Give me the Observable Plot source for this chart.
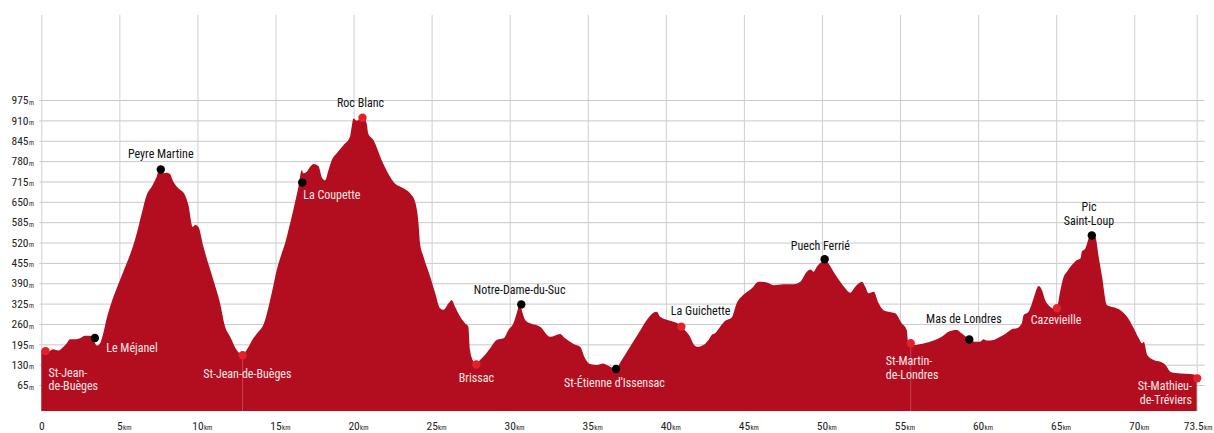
<!DOCTYPE html>
<html>
<head>
<meta charset="utf-8">
<script src="https://cdn.jsdelivr.net/npm/d3@7"></script>
<script src="https://cdn.jsdelivr.net/npm/@observablehq/plot@0.6"></script>
<style>
  html, body { margin: 0; padding: 0; background: #fff; }
  #chart svg { display: block; }
</style>
</head>
<body>
<div id="chart"></div>
<script>
// ---- profile data (distance in km, elevation in m) ----
const distKm = [
  0.00,0.34,0.77,1.09,1.30,1.62,1.84,2.27,2.48,2.80,3.12,3.33,3.55,3.76,3.97,4.19,4.51,4.83,5.25,5.47,
  5.79,6.11,6.43,6.75,7.07,7.39,7.56,7.82,8.03,8.24,8.46,8.78,9.20,9.42,9.70,9.85,10.06,10.38,11.02,11.45,
  11.77,12.09,12.51,12.86,13.15,13.58,13.90,14.22,14.76,15.08,15.40,15.61,15.83,16.14,16.47,16.68,16.79,17.00,17.22,17.44,
  17.75,17.97,18.18,18.39,18.60,18.92,19.35,19.77,19.88,19.99,20.20,20.31,20.52,20.84,20.94,21.27,21.80,22.34,22.55,23.19,
  23.62,23.94,24.16,24.26,24.48,24.91,25.23,25.54,25.76,26.08,26.29,26.50,26.83,27.14,27.35,27.46,27.63,27.82,28.10,28.32,
  28.74,29.17,29.60,29.92,30.24,30.45,30.67,30.77,30.99,31.31,31.95,32.59,33.23,33.55,34.09,34.51,34.83,35.15,35.57,35.99,
  36.21,36.77,37.18,37.71,38.25,38.78,39.10,39.42,39.63,40.27,40.91,41.24,41.55,41.77,41.99,42.41,42.73,42.94,43.15,43.48,
  43.80,44.22,44.54,44.97,45.51,45.94,46.47,46.90,47.54,48.18,48.61,49.03,49.25,49.46,49.67,49.99,50.21,50.42,50.74,51.17,
  51.49,51.81,52.13,52.56,52.77,52.99,53.31,53.63,53.94,54.26,54.69,55.11,55.43,55.53,55.86,56.50,57.24,57.67,58.10,58.63,
  58.95,59.40,59.81,60.13,60.34,60.55,60.98,61.41,61.73,62.16,62.48,62.80,62.91,63.23,63.45,63.66,63.87,64.09,64.30,64.51,
  64.84,65.05,65.27,65.48,65.69,66.01,66.33,66.55,66.65,66.87,67.08,67.29,67.51,67.72,67.94,68.26,68.69,69.11,69.54,69.97,
  70.29,70.50,70.61,70.83,71.25,71.68,72.00,72.33,72.97,73.61,74.00
];
const elevM = [
  177,168,179,175,182,198,211,211,214,222,222,211,191,198,230,278,331,374,427,454,
  496,549,613,672,698,730,752,741,743,739,714,693,672,640,570,576,570,507,400,326,
  252,220,177,162,177,214,235,257,359,432,486,517,560,624,698,751,741,746,762,771,
  764,728,719,751,783,805,831,858,890,916,909,911,927,900,868,847,783,730,714,693,
  677,650,581,517,475,411,358,310,305,326,336,315,283,262,251,177,145,132,145,156,
  182,209,214,241,262,294,326,305,273,262,251,219,228,214,196,187,150,132,129,134,
  129,118,145,187,230,273,292,299,283,270,257,239,219,196,187,193,209,225,230,251,
  270,281,326,353,374,395,392,384,387,387,395,427,434,427,443,459,464,453,427,395,
  374,360,379,395,379,358,363,326,304,299,294,262,241,198,193,198,209,219,235,241,
  230,212,203,203,211,207,209,219,228,243,246,262,288,299,326,358,381,368,336,320,
  310,315,368,411,427,448,464,469,491,501,533,549,539,475,411,320,313,304,283,246,
  214,198,203,161,145,139,129,107,102,100,96
];

// ---- named places ----
const placeNames = [
  "St-Jean-\nde-Buèges","Le Méjanel","Peyre Martine","St-Jean-de-Buèges","La Coupette","Roc Blanc",
  "Brissac","Notre-Dame-du-Suc","St-Étienne d'Issensac","La Guichette","Puech Ferrié",
  "St-Martin-\nde-Londres","Mas de Londres","Cazevieille","Pic\nSaint-Loup","St-Mathieu-\nde-Tréviers"
];
const placeKm   = [0.24,3.40,7.62,12.86,16.68,20.54,27.83,30.71,36.78,40.96,50.14,55.65,59.40,65.02,67.25,74.0];
const placeElev = [175,217,755,162,713,920,132,324,118,253,468,200,212,312,544,88];
const placeKind = ["village","site","summit","village","site","village","village","summit","site","village","summit","village","site","village","summit","village"];

// ---- axis ticks ----
const yTicks = [65,130,195,260,325,390,455,520,585,650,715,780,845,910,975];
const yUnit = "m";
const xTicks = [0,5,10,15,20,25,30,35,40,45,50,55,60,65,70,74];
const xTickLabels = ["0","5","10","15","20","25","30","35","40","45","50","55","60","65","70","73.5"];
const xUnit = "km";

// ---- styling / layout config ----
const W = 1214, H = 433, ML = 41.3, MR = 17.3, MT = 15, MB = 22;
const X_MAX = 74;
const FILL = "#b20e1f";
const RED_DOT = "#e6202b";
const FONT = "'Liberation Sans Narrow','Arial Narrow','Roboto Condensed',Roboto,sans-serif";
const INSIDE = "#fbe6e6";
const TICK_SIZE = 11.5, UNIT_SIZE = 7, LABEL_SIZE = 12;
// label placement relative to the dot (px): [dx, dy, anchor, inside]
const labelLayout = {
  "St-Jean-\nde-Buèges":      [3, 28.3, "start", true],
  "Le Méjanel":               [11.4, 9.4, "start", true],
  "Peyre Martine":            [0, -15.7, "middle", false],
  "St-Jean-de-Buèges":        [4.7, 18.6, "middle", true],
  "La Coupette":              [1, 12, "start", true],
  "Roc Blanc":                [-2, -15.3, "middle", false],
  "Brissac":                  [0, 12.7, "middle", true],
  "Notre-Dame-du-Suc":        [-1.7, -14.7, "middle", false],
  "St-Étienne d'Issensac":    [-1.6, 13.4, "middle", true],
  "La Guichette":             [19.3, -16, "middle", false],
  "Puech Ferrié":             [-4.3, -13.7, "middle", false],
  "St-Martin-\nde-Londres":   [-25, 24.5, "start", true],
  "Mas de Londres":           [-5.4, -21.3, "middle", false],
  "Cazevieille":              [-1, 11.6, "middle", true],
  "Pic\nSaint-Loup":          [-2.8, -21.8, "middle", false],
  "St-Mathieu-\nde-Tréviers": [-5.3, 14.5, "end", true]
};
const dividerPlaces = ["St-Jean-de-Buèges", "St-Martin-\nde-Londres"];

const profile = distKm.map((d, i) => ({km: d, elev: elevM[i]}));
const places = placeNames.map((n, i) => ({name: n, km: placeKm[i], elev: placeElev[i], kind: placeKind[i]}));
const Y_MIN = -17.9, Y_MAX = 1246.5;

// text measurement helper
const ctx = document.createElement("canvas").getContext("2d");
function textWidth(s, size) { ctx.font = `${size}px ${FONT}`; return ctx.measureText(s).width; }

const labelMarks = places.map(p => {
  const [dx, dy, anchor, inside] = labelLayout[p.name];
  return Plot.text([p], {
    x: "km", y: "elev", text: "name",
    dx, dy, textAnchor: anchor, lineAnchor: "middle", lineHeight: 1.13,
    fill: inside ? INSIDE : "#111", fontSize: LABEL_SIZE, fontFamily: FONT
  });
});

// x tick labels: number centred on the tick, small unit after it (kept inside the picture)
const X_LABEL_DY = 18.8;
const xLabelMarks = xTicks.flatMap((t, i) => {
  const lab = xTickLabels[i];
  const numW = textWidth(lab, TICK_SIZE);
  const unitWx = i > 0 ? textWidth(xUnit, UNIT_SIZE) + 0.3 : 0;
  const px = ML + t / X_MAX * (W - ML - MR);
  const shift = Math.min(0, (W - 2) - (px + numW / 2 + unitWx));
  const marks = [Plot.text([t], {x: d => d, frameAnchor: "bottom", text: () => lab, dy: X_LABEL_DY, dx: shift,
    lineAnchor: "bottom", textAnchor: "middle", fontSize: TICK_SIZE, fill: "#222", fontFamily: FONT})];
  if (i > 0) {
    marks.push(Plot.text([t], {x: d => d, frameAnchor: "bottom", text: () => xUnit, dy: X_LABEL_DY,
      dx: numW / 2 + 0.3 + shift,
      lineAnchor: "bottom", textAnchor: "start", fontSize: UNIT_SIZE, fill: "#222", fontFamily: FONT}));
  }
  return marks;
});

const unitW = textWidth(yUnit, 6.5);
const chart = Plot.plot({
  width: W,
  height: H,
  marginLeft: ML,
  marginRight: MR,
  marginTop: MT,
  marginBottom: MB,
  style: {fontFamily: FONT, background: "#fff"},
  x: {domain: [0, X_MAX], axis: null},
  y: {domain: [Y_MIN, Y_MAX], axis: null},
  marks: [
    Plot.ruleY(yTicks, {stroke: "#c9c9c9", strokeWidth: 1, insetLeft: -2, insetRight: -8}),
    Plot.ruleX(xTicks, {stroke: "#cfcfcf", strokeWidth: 1}),
    Plot.areaY(profile, {x: "km", y1: Y_MIN, y2: "elev", fill: FILL, curve: "monotone-x"}),
    Plot.ruleX(places.filter(p => dividerPlaces.includes(p.name)), {x: "km", y1: Y_MIN, y2: "elev", stroke: "#ffffff", strokeOpacity: 0.22, strokeWidth: 1}),
    Plot.dot(places, {x: "km", y: "elev", r: 4.2, fill: d => d.kind === "village" ? RED_DOT : "#000", stroke: "none"}),
    ...labelMarks,
    // y tick labels with a small unit suffix
    Plot.text(yTicks, {y: d => d, frameAnchor: "left", text: d => String(d), dx: -8 - unitW - 0.4,
      textAnchor: "end", lineAnchor: "middle", fontSize: TICK_SIZE, fill: "#222", fontFamily: FONT}),
    Plot.text(yTicks, {y: d => d, frameAnchor: "left", text: () => yUnit, dx: -8, dy: 4.1,
      textAnchor: "end", lineAnchor: "bottom", fontSize: 6.5, fill: "#222", fontFamily: FONT}),
    ...xLabelMarks
  ]
});

document.getElementById("chart").appendChild(chart);
</script>
</body>
</html>
